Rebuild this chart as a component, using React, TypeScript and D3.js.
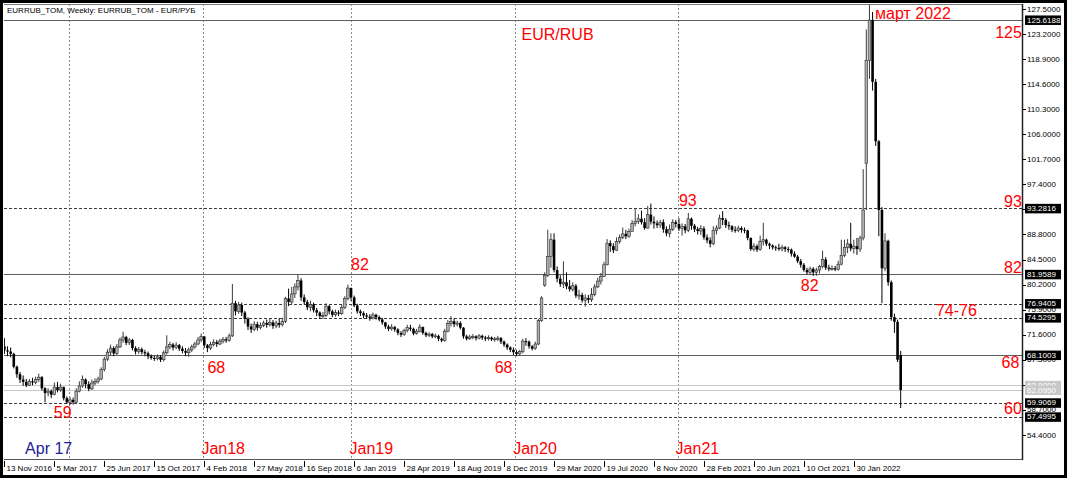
import * as d3 from 'd3';

// weekly EUR/RUB (TOM) bars, first bar = week of 13 Nov 2016
const firstWeek = '2016-11-13';
const firstOpen = 69.6;
// weeks that opened away from the previous close
const gapOpens: Record<number, number> = { 173: 80.1, 276: 101.0, 287: 68.1 };

const closes = [
  68.9, 68.7, 68.3, 66.1, 64.8, 63.9, 63.5, 62.9, 63.6, 63.4,
  63.9, 64.3, 62.4, 61.6, 61.9, 61.3, 62.6, 62.1, 62.6, 60.7,
  60.0, 60.4, 60.0, 61.9, 62.8, 63.9, 63.1, 62.3, 63.3, 63.6,
  64.0, 65.6, 67.4, 68.6, 69.3, 68.4, 69.5, 70.7, 71.2, 70.2,
  70.7, 69.3, 68.7, 69.1, 68.6, 68.4, 67.9, 67.6, 67.5, 67.8,
  67.3, 68.5, 69.5, 69.9, 69.4, 69.8, 69.2, 68.8, 68.5, 69.0,
  69.5, 70.0, 70.7, 71.3, 69.8, 69.3, 69.9, 70.3, 70.0, 70.5,
  70.8, 70.6, 71.4, 77.0, 75.6, 76.7, 75.4, 74.3, 73.0, 72.5,
  73.4, 72.8, 73.2, 73.6, 73.3, 73.7, 73.1, 73.6, 73.3, 73.9,
  77.8, 77.2, 78.6, 79.8, 80.9, 78.0, 77.2, 76.3, 76.8, 75.8,
  75.4, 74.8, 74.9, 76.5, 75.6, 75.0, 75.4, 75.2, 76.3, 77.8,
  79.6, 78.0, 76.6, 75.6, 75.3, 74.9, 74.7, 74.5, 75.0, 74.6,
  74.2, 73.7, 73.0, 72.6, 72.9, 72.5, 71.9, 71.6, 72.3, 72.8,
  72.6, 71.8, 72.2, 72.9, 71.9, 71.5, 71.7, 71.3, 71.4, 70.9,
  70.6, 72.2, 73.5, 73.9, 73.4, 73.6, 72.8, 71.3, 70.9, 71.2,
  71.3, 71.0, 71.4, 71.1, 70.9, 71.1, 70.8, 70.9, 71.0, 70.4,
  69.9, 69.4, 69.0, 68.6, 68.3, 68.7, 70.5, 70.4, 69.6, 69.2,
  70.0, 74.0, 77.9, 81.8, 85.0, 87.9, 82.7, 81.2, 80.3, 80.6,
  79.9, 79.4, 80.0, 78.3, 78.4, 77.5, 77.9, 77.6, 78.5, 79.8,
  80.8, 81.6, 83.6, 87.3, 86.8, 86.1, 87.6, 88.3, 88.9, 88.5,
  89.3, 90.7, 91.0, 91.5, 90.9, 89.9, 92.2, 91.0, 90.7, 90.4,
  90.9, 89.7, 89.0, 89.7, 90.9, 90.6, 89.8, 90.2, 89.5, 91.5,
  90.3, 89.7, 89.4, 89.8, 88.3, 87.8, 87.2, 89.5, 89.9, 91.6,
  91.3, 90.4, 90.2, 89.6, 89.5, 89.9, 89.6, 89.5, 88.2, 86.3,
  86.8, 86.2, 87.6, 87.9, 87.2, 86.9, 86.6, 86.5, 86.3, 86.6,
  86.3, 86.2, 85.5, 85.0, 84.2, 83.6, 82.7, 82.3, 82.9, 82.3,
  82.7, 83.3, 84.5, 83.1, 82.9, 83.0, 82.8, 83.7, 85.2, 86.6,
  87.2, 86.4, 86.8, 86.3, 88.2, 93.0, 118.7, 125.6, 115.0, 104.8,
  93.0, 83.0, 87.7, 80.6, 74.6, 73.8, 67.3, 62.1,
];

const highs = [
  71.0, 69.6, 69.4, 68.5, 66.3, 65.2, 64.6, 64.0, 64.0, 64.2,
  64.4, 64.9, 64.5, 62.6, 62.4, 62.2, 63.4, 63.5, 63.2, 62.7,
  61.0, 60.9, 60.8, 62.4, 63.6, 64.6, 64.1, 63.6, 63.9, 64.1,
  64.4, 66.0, 67.8, 69.1, 69.9, 69.6, 70.0, 71.1, 72.1, 71.4,
  71.0, 70.9, 69.6, 69.5, 69.4, 69.0, 68.7, 68.2, 68.0, 68.2,
  68.1, 68.9, 71.5, 70.4, 70.2, 70.3, 70.0, 69.6, 69.3, 69.4,
  69.9, 70.4, 71.2, 71.8, 71.3, 70.0, 70.4, 70.8, 70.7, 70.9,
  71.2, 71.2, 71.8, 80.3, 77.4, 77.2, 77.1, 75.7, 74.6, 73.5,
  73.9, 73.8, 73.7, 74.0, 74.2, 74.3, 74.1, 74.0, 74.4, 74.5,
  78.1, 79.5, 79.8, 80.4, 81.9, 81.3, 78.5, 77.6, 77.4, 77.1,
  76.2, 75.6, 75.5, 77.0, 76.7, 75.9, 75.9, 75.8, 76.8, 78.2,
  80.2, 79.7, 78.3, 76.9, 75.9, 75.6, 75.3, 75.1, 75.4, 75.2,
  74.9, 74.5, 73.8, 73.3, 73.4, 73.1, 72.7, 72.2, 72.6, 73.3,
  73.3, 72.8, 72.6, 73.4, 73.0, 72.1, 72.0, 71.9, 71.8, 71.6,
  71.1, 72.6, 74.1, 74.8, 74.4, 74.0, 73.9, 72.9, 71.6, 71.6,
  71.7, 71.5, 71.7, 71.6, 71.4, 71.5, 71.3, 71.2, 71.4, 71.2,
  70.6, 70.1, 69.6, 69.4, 69.0, 69.0, 70.9, 71.0, 70.6, 69.8,
  70.4, 74.3, 78.2, 82.3, 89.6, 89.0, 89.0, 83.3, 81.8, 84.2,
  82.3, 81.0, 80.6, 80.3, 79.3, 78.8, 78.5, 78.4, 79.6, 80.3,
  81.4, 82.2, 84.1, 88.0, 87.8, 87.3, 88.3, 88.8, 90.0, 89.6,
  89.8, 91.3, 93.2, 92.3, 92.9, 91.6, 93.7, 94.1, 91.9, 91.2,
  91.3, 91.4, 90.2, 90.5, 91.4, 91.3, 91.6, 90.7, 90.6, 92.5,
  91.7, 90.6, 90.1, 90.4, 90.2, 88.8, 88.3, 90.2, 90.4, 92.2,
  92.8, 91.6, 91.0, 90.4, 90.2, 90.3, 90.2, 90.0, 89.6, 88.3,
  87.3, 87.1, 88.6, 90.8, 88.1, 87.4, 87.1, 86.9, 87.2, 87.0,
  86.8, 86.7, 86.4, 85.9, 85.3, 84.6, 83.9, 83.1, 83.3, 83.2,
  83.1, 83.6, 86.0, 84.9, 83.6, 83.5, 83.4, 84.3, 87.9, 87.9,
  88.0, 90.8, 87.9, 88.2, 88.6, 100.0, 124.0, 129.0, 127.0, 115.5,
  105.0, 93.5, 89.0, 87.9, 80.9, 75.2, 74.2, 68.8,
];

const lows = [
  68.3, 67.9, 67.7, 65.8, 64.2, 63.3, 62.8, 62.6, 62.8, 62.9,
  63.1, 63.5, 62.0, 60.0, 61.0, 60.7, 61.2, 61.7, 61.8, 60.3,
  59.7, 59.5, 59.6, 59.9, 61.7, 62.5, 62.4, 61.9, 62.1, 62.9,
  63.2, 63.8, 65.3, 67.1, 68.0, 67.9, 68.1, 69.3, 70.2, 69.8,
  69.8, 68.9, 68.2, 68.3, 68.2, 67.9, 67.4, 67.3, 67.1, 67.2,
  66.9, 67.0, 68.2, 69.1, 68.9, 69.1, 68.8, 68.4, 67.9, 67.8,
  68.6, 69.2, 69.8, 70.3, 69.3, 68.6, 69.0, 69.6, 69.5, 69.8,
  70.1, 70.2, 70.4, 71.2, 74.9, 75.2, 74.8, 73.5, 72.4, 71.9,
  72.2, 72.3, 72.5, 72.9, 72.8, 73.0, 72.6, 72.7, 72.8, 73.0,
  73.6, 76.5, 76.8, 77.9, 79.2, 77.4, 76.8, 75.8, 75.6, 75.4,
  74.8, 74.3, 74.3, 74.6, 75.1, 74.6, 74.7, 74.8, 75.0, 76.0,
  77.5, 77.4, 76.3, 75.2, 74.8, 74.4, 74.3, 74.0, 74.2, 74.2,
  73.9, 73.3, 72.6, 72.2, 72.3, 72.1, 71.5, 71.2, 71.4, 72.0,
  72.2, 71.5, 71.6, 72.0, 71.6, 71.2, 71.2, 71.0, 71.0, 70.5,
  70.3, 70.4, 72.0, 73.0, 72.9, 73.0, 72.5, 70.9, 70.6, 70.7,
  70.8, 70.6, 70.8, 70.7, 70.5, 70.6, 70.5, 70.4, 70.5, 70.0,
  69.5, 69.0, 68.6, 68.1, 67.9, 68.0, 68.4, 69.7, 69.2, 68.9,
  69.0, 69.8, 73.8, 79.8, 81.5, 83.1, 82.3, 80.6, 79.8, 79.6,
  79.4, 79.0, 79.0, 77.9, 77.6, 77.1, 76.4, 77.0, 77.2, 78.2,
  79.6, 80.2, 81.5, 83.5, 85.8, 85.6, 86.0, 87.2, 88.0, 88.0,
  88.2, 89.3, 90.2, 90.6, 90.5, 89.6, 89.8, 90.5, 89.8, 89.9,
  89.9, 89.1, 88.5, 88.3, 89.4, 90.0, 89.4, 88.6, 89.0, 89.2,
  89.6, 89.2, 88.8, 88.7, 87.9, 87.3, 86.6, 87.0, 88.8, 89.7,
  90.4, 89.9, 89.6, 89.2, 89.1, 89.2, 89.1, 89.0, 87.8, 86.0,
  85.9, 85.8, 86.0, 86.9, 86.8, 86.3, 86.2, 86.0, 86.0, 85.9,
  85.8, 85.7, 85.0, 84.8, 83.9, 83.1, 82.4, 81.9, 81.9, 81.7,
  81.7, 82.1, 83.0, 82.7, 82.5, 82.6, 82.5, 82.6, 83.5, 84.9,
  85.6, 85.9, 85.5, 85.3, 85.8, 87.8, 93.0, 115.5, 113.5, 104.0,
  88.5, 77.0, 82.5, 80.0, 74.0, 71.9, 66.9, 59.0,
];

const priceTicks = [127.5, 123.2, 118.9, 114.6, 110.3, 106.0, 101.7, 97.4, 93.1,
  88.8, 84.5, 80.2, 75.9, 71.6, 67.3, 63.0, 58.7, 54.4];

const dateLabels = ['13 Nov 2016', '5 Mar 2017', '25 Jun 2017', '15 Oct 2017', '4 Feb 2018',
  '27 May 2018', '16 Sep 2018', '6 Jan 2019', '28 Apr 2019', '18 Aug 2019', '8 Dec 2019',
  '29 Mar 2020', '19 Jul 2020', '8 Nov 2020', '28 Feb 2021', '20 Jun 2021', '10 Oct 2021',
  '30 Jan 2022'];

const solidLevels = [125.6188, 81.9589, 68.1003];
const dashedLevels = [93.2816, 76.9405, 74.5295, 59.9069, 57.4995];
const quoteLevels = [62.9, 62.095];

// user drawn vertical lines and their captions
const yearLines = [
  { date: '2017-04-07', label: 'Apr 17' },
  { date: '2018-02-02', label: 'Jan18' },
  { date: '2018-12-31', label: 'Jan19' },
  { date: '2020-01-02', label: 'Jan20' },
  { date: '2020-12-31', label: 'Jan21' },
];

// red price notes: week index, price at text baseline
const notes = [
  { text: 'EUR/RUB', week: 165.6, price: 122.1, anchor: 'start' },
  { text: 'март 2022', week: 278.8, price: 125.75, anchor: 'start' },
  { text: '125', week: 325.8, price: 122.6, anchor: 'end' },
  { text: '93', week: 325.8, price: 93.5, anchor: 'end' },
  { text: '82', week: 325.8, price: 82.27, anchor: 'end' },
  { text: '74-76', week: 311.4, price: 74.8, anchor: 'end' },
  { text: '68', week: 325.0, price: 65.9, anchor: 'end' },
  { text: '60', week: 325.8, price: 57.98, anchor: 'end' },
  { text: '93', week: 216.0, price: 93.7, anchor: 'start' },
  { text: '82', week: 111.0, price: 82.7, anchor: 'start' },
  { text: '82', week: 255.0, price: 79.1, anchor: 'start' },
  { text: '68', week: 65.0, price: 65.0, anchor: 'start' },
  { text: '68', week: 157.0, price: 65.0, anchor: 'start' },
  { text: '59', week: 15.8, price: 57.3, anchor: 'start' },
];

const W = 1067;
const H = 478;
const plot = { left: 4, right: 1022, top: 4, bottom: 459 };
const smallFont = '"Liberation Sans", Arial, sans-serif';

const start = d3.timeParse('%Y-%m-%d')(firstWeek)!;
const weekOf = (d: Date) => (d.getTime() - start.getTime()) / (7 * 864e5);

export default function App() {
  const x = d3.scaleLinear().domain([-0.13, 325.85]).range([plot.left, plot.right]);
  const y = d3.scaleLinear().domain([50.26, 128.36]).range([plot.bottom, plot.top]);

  const candles = closes.map((c, i) => {
    const o = gapOpens[i] ?? (i === 0 ? firstOpen : closes[i - 1]);
    return { i, o, c, h: Math.max(highs[i], o, c), l: Math.min(lows[i], o, c) };
  });

  const parseLabel = d3.timeParse('%d %b %Y');
  const parseDay = d3.timeParse('%Y-%m-%d');
  const lineY = (v: number) => Math.round(y(v)) + 0.5;
  const fmt = d3.format('.4f');

  return (
    <div style={{ position: 'fixed', left: 0, top: 0 }}>
      <svg width={W} height={H} style={{ display: 'block' }}>
        <defs>
          <clipPath id="plotClip">
            <rect x={plot.left} y={plot.top} width={plot.right - plot.left} height={plot.bottom - plot.top} />
          </clipPath>
        </defs>
        <rect x={0} y={0} width={W} height={H} fill="#fff" />

        <g clipPath="url(#plotClip)">
          {/* vertical year lines */}
          {yearLines.map(l => {
            const xx = Math.round(x(weekOf(parseDay(l.date)!))) + 0.5;
            return (
              <line key={l.date} x1={xx} x2={xx} y1={plot.top} y2={plot.bottom}
                stroke="#8a8a8a" strokeDasharray="2,2" />
            );
          })}
          {/* level lines */}
          {quoteLevels.map(v => (
            <line key={v} x1={plot.left} x2={plot.right} y1={lineY(v)} y2={lineY(v)} stroke="#c8c8c8" />
          ))}
          {solidLevels.map(v => (
            <line key={v} x1={plot.left} x2={plot.right} y1={lineY(v)} y2={lineY(v)} stroke="#5e5e5e" />
          ))}
          {dashedLevels.map(v => (
            <line key={v} x1={plot.left} x2={plot.right} y1={lineY(v)} y2={lineY(v)}
              stroke="#3c3c3c" strokeDasharray="3,2" />
          ))}

          {/* candles */}
          {candles.map(d => {
            const cx = x(d.i);
            const up = d.c >= d.o;
            const top = y(Math.max(d.o, d.c));
            const bot = y(Math.min(d.o, d.c));
            return (
              <g key={d.i}>
                <line x1={cx} x2={cx} y1={y(d.h)} y2={y(d.l)} stroke={up ? '#3a3a3a' : '#000'} strokeWidth={1} />
                <rect x={cx - 1.3} y={top} width={2.6} height={Math.max(1, bot - top)}
                  fill={up ? '#b0b0b0' : '#000'} stroke={up ? '#2a2a2a' : 'none'} strokeWidth={0.6} />
              </g>
            );
          })}

          {/* notes */}
          {notes.map((n, i) => (
            <text key={i} x={x(n.week)} y={y(n.price)} textAnchor={n.anchor as any}
              fontFamily='"Liberation Sans", Arial, sans-serif' fontSize={16} fill="#ff0000">
              {n.text}
            </text>
          ))}
          {yearLines.map((l, i) => (
            <text key={l.label} x={x(weekOf(parseDay(l.date)!)) - (i === 0 ? 44 : 2)} y={y(51.12)}
              fontFamily='"Liberation Sans", Arial, sans-serif' fontSize={16}
              fill={i === 0 ? '#1c1c96' : '#ff0000'}>
              {l.label}
            </text>
          ))}

          <text x={7} y={13} fontFamily={smallFont} fontSize={8} fill="#000">
            EURRUB_TOM, Weekly:  EURRUB_TOM - EUR/РУБ
          </text>
        </g>

        {/* frame of the plot */}
        <line x1={plot.left} x2={plot.right} y1={plot.top + 0.5} y2={plot.top + 0.5} stroke="#777" />
        <line x1={plot.left} x2={plot.right + 1} y1={plot.bottom + 0.5} y2={plot.bottom + 0.5} stroke="#555" />
        <line x1={plot.right + 0.5} x2={plot.right + 0.5} y1={plot.top} y2={plot.bottom + 1} stroke="#222" strokeWidth={1.5} />

        {/* price axis */}
        {priceTicks.map(v => (
          <g key={v}>
            <line x1={plot.right} x2={plot.right + 4} y1={lineY(v)} y2={lineY(v)} stroke="#000" />
            <text x={plot.right + 5} y={y(v)} dy="0.33em" fontFamily={smallFont} fontSize={8} fill="#000">
              {fmt(v)}
            </text>
          </g>
        ))}
        {quoteLevels.map(v => (
          <g key={v}>
            <rect x={plot.right + 3} y={y(v) - 4.5} width={36} height={9.5} fill="#c8c8c8" />
            <text x={plot.right + 5} y={y(v)} dy="0.33em" fontFamily={smallFont} fontSize={8} fill="#fff">
              {fmt(v)}
            </text>
          </g>
        ))}
        {[...solidLevels, ...dashedLevels].map(v => (
          <g key={v}>
            <rect x={plot.right + 3} y={y(v) - 4.5} width={36} height={9.5} fill="#000" />
            <text x={plot.right + 5} y={y(v)} dy="0.33em" fontFamily={smallFont} fontSize={8} fill="#fff">
              {fmt(v)}
            </text>
          </g>
        ))}

        {/* time axis */}
        {dateLabels.map(s => {
          const xx = Math.round(x(weekOf(parseLabel(s)!))) + 0.5;
          return (
            <g key={s}>
              <line x1={xx} x2={xx} y1={plot.bottom + 2} y2={plot.bottom + 8} stroke="#000" />
              <text x={xx + 2} y={plot.bottom + 12} fontFamily={smallFont} fontSize={8} fill="#000">{s}</text>
            </g>
          );
        })}

        {/* window border */}
        <rect x={1.5} y={1.5} width={W - 3} height={H - 3} fill="none" stroke="#000" strokeWidth={3} />
      </svg>
    </div>
  );
}
